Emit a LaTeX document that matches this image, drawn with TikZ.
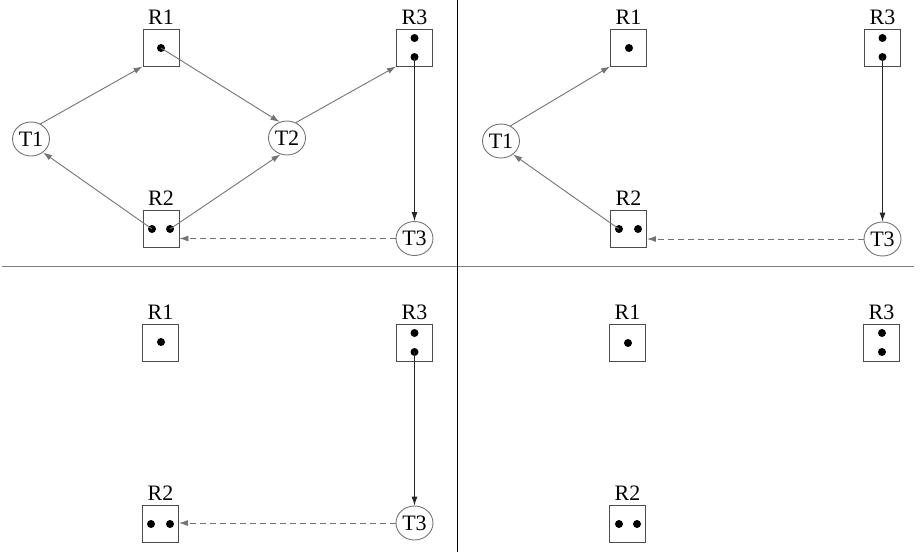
\documentclass[tikz,border=0pt]{standalone}
\usepackage{fontspec}
\setmainfont{Liberation Serif}
\usetikzlibrary{arrows.meta,shapes.geometric}
\begin{document}
\begin{tikzpicture}[x=1pt,y=-1pt,
 res/.style={draw=black!70,line width=0.9pt,minimum width=36pt,minimum height=37pt,inner sep=0pt},
 task/.style={ellipse,draw=black!55,line width=0.9pt,minimum width=37pt,minimum height=34pt,inner sep=0pt,font=\fontsize{22}{24}\selectfont},
 lbl/.style={font=\fontsize{22}{24}\selectfont,inner sep=0pt},
 dot/.style={circle,fill=black,minimum size=8pt,inner sep=0pt},
 arr/.style={draw=black!55,line width=0.9pt,-{Latex[length=9pt,width=6pt]}},
 downarr/.style={draw=black!85,line width=0.9pt,-{Latex[length=9pt,width=6pt]}},
 waitarr/.style={draw=black!55,line width=0.9pt,dash pattern=on 6pt off 4pt,-{Latex[length=9pt,width=6pt]}}
]
\useasboundingbox (0,0) rectangle (924,558);
% dividers
\draw[black!50,line width=1.6pt] (2,266.5) -- (914,266.5);
\draw[black,line width=0.7pt] (457.5,0) -- (457.5,552);

% ---------- top-left ----------
\node[res] (a1) at (161,47.5) {};
\node[lbl] (a1l) at (161,17) {R1};
\node[dot] (a1d) at (161,48) {};
\node[res] (a3) at (414.5,47.5) {};
\node[lbl] (a3l) at (414.5,17) {R3};
\node[dot] (a3d1) at (414.5,38) {};
\node[dot] (a3d2) at (414.5,57) {};
\node[res] (a2) at (161,228.5) {};
\node[lbl] (a2l) at (161,198) {R2};
\node[dot] (a2d1) at (152,229) {};
\node[dot] (a2d2) at (170,229) {};
\node[task] (at1) at (31,139) {T1};
\node[task] (at2) at (287,138) {T2};
\node[task] (at3) at (414.5,238.5) {T3};
\draw[arr] (at1.58) -- (a1.south west);
\draw[arr] (a1d.center) -- (at2.115);
\draw[arr] (at2.60) -- (a3.south west);
\draw[arr] (a2d1.center) -- (at1.-48);
\draw[arr] (a2d2.center) -- (at2.-112);
\draw[downarr] (a3d2.center) -- (at3.north);
\draw[waitarr] (at3.west) -- (a2.east |- at3.west);

% ---------- top-right ----------
\node[res] (b1) at (628.5,47.5) {};
\node[lbl] (b1l) at (628.5,17) {R1};
\node[dot] (b1d) at (629,48) {};
\node[res] (b3) at (882.5,47.5) {};
\node[lbl] (b3l) at (882.5,17) {R3};
\node[dot] (b3d1) at (882.5,38) {};
\node[dot] (b3d2) at (882.5,57) {};
\node[res] (b2) at (628.5,229) {};
\node[lbl] (b2l) at (628.5,198) {R2};
\node[dot] (b2d1) at (619,229) {};
\node[dot] (b2d2) at (638,229) {};
\node[task] (bt1) at (501,141) {T1};
\node[task] (bt3) at (882.5,239) {T3};
\draw[arr] (bt1.58) -- (b1.south west);
\draw[arr] (b2d1.center) -- (bt1.-48);
\draw[downarr] (b3d2.center) -- (bt3.north);
\draw[waitarr] (bt3.west) -- (b2.east |- bt3.west);

% ---------- bottom-left ----------
\node[res] (c1) at (160.5,342.5) {};
\node[lbl] (c1l) at (160.5,312) {R1};
\node[dot] (c1d) at (161,342) {};
\node[res] (c3) at (414.5,342.5) {};
\node[lbl] (c3l) at (414.5,312) {R3};
\node[dot] (c3d1) at (414.5,333) {};
\node[dot] (c3d2) at (414.5,352) {};
\node[res] (c2) at (160.5,524) {};
\node[lbl] (c2l) at (160.5,493) {R2};
\node[dot] (c2d1) at (151,524) {};
\node[dot] (c2d2) at (170,524) {};
\node[task] (ct3) at (414.5,523) {T3};
\draw[downarr] (c3d2.center) -- (ct3.north);
\draw[waitarr] (ct3.west) -- (c2.east |- ct3.west);

% ---------- bottom-right ----------
\node[res] (d1) at (627.5,342.5) {};
\node[lbl] (d1l) at (627.5,312) {R1};
\node[dot] (d1d) at (628,343) {};
\node[res] (d3) at (881.5,342.5) {};
\node[lbl] (d3l) at (881.5,312) {R3};
\node[dot] (d3d1) at (882,333) {};
\node[dot] (d3d2) at (882,352) {};
\node[res] (d2) at (627.5,524) {};
\node[lbl] (d2l) at (627.5,493) {R2};
\node[dot] (d2d1) at (619,524) {};
\node[dot] (d2d2) at (637,524) {};
\end{tikzpicture}
\end{document}
